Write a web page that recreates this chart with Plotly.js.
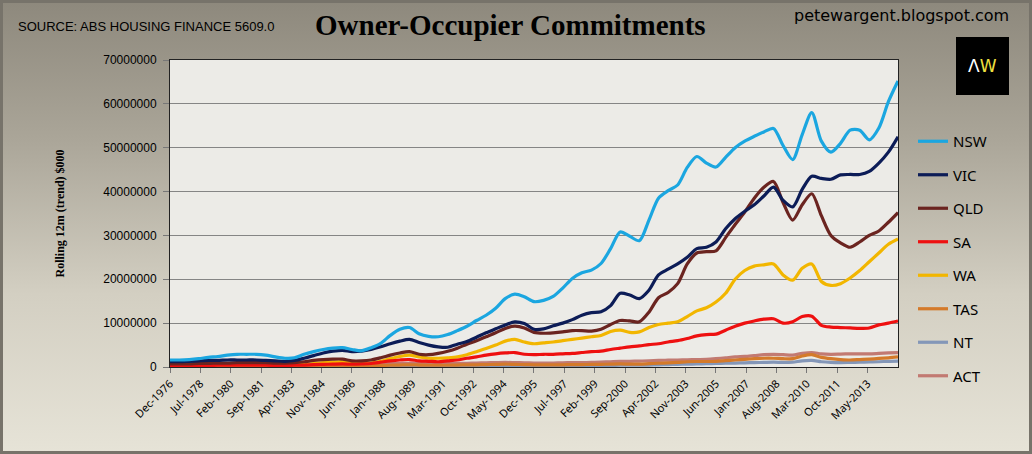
<!DOCTYPE html>
<html>
<head>
<meta charset="utf-8">
<script src="https://cdn.plot.ly/plotly-3.0.1.min.js"></script>
<style>
  body { margin: 0; padding: 0; }
  #chart {
    width: 1032px; height: 454px; box-sizing: border-box;
    border: 3px solid #77736a;
    background: linear-gradient(to bottom, #8e897d 0%, #aaa598 30%, #d3cfc2 65%, #e6e3d7 100%);
  }
</style>
</head>
<body>
<div id="chart"></div>
<script>
// rolling 12 month commitments, $000 (in millions of $000), read every six months Dec-1976 .. Dec-2014
var nsw = [1.6,1.6,1.7,1.9,2.2,2.4,2.7,2.9,2.9,2.9,
  2.7,2.3,2.0,2.1,2.9,3.5,4.0,4.3,4.4,4.0,
  3.7,4.4,5.4,7.2,8.6,9.0,7.6,7.0,6.9,7.4,
  8.3,9.3,10.6,11.8,13.4,15.6,16.6,16.0,14.9,15.2,
  16.1,18.0,20.2,21.5,22.1,23.6,27.0,30.8,29.8,28.8,
  33.5,38.5,40.2,41.5,45.5,48.0,46.5,45.6,47.8,50.0,
  51.5,52.6,53.6,54.4,50.5,47.3,53.0,58.0,51.5,49.0,
  51.0,54.0,54.0,51.8,54.5,60.5,65.2];
var vic = [1.2,1.2,1.3,1.4,1.5,1.5,1.6,1.6,1.6,1.6,
  1.5,1.4,1.3,1.5,2.0,2.6,3.2,3.6,3.8,3.5,
  3.6,4.0,4.6,5.3,5.9,6.3,5.6,5.0,4.6,4.5,
  5.2,5.8,6.8,7.8,8.7,9.6,10.3,9.9,8.6,8.7,
  9.4,10.0,10.8,11.8,12.4,12.6,14.0,16.8,16.4,15.6,
  17.5,21.0,22.3,23.5,25.0,27.0,27.3,28.5,31.5,33.8,
  35.5,37.0,39.0,41.0,38.0,36.5,40.5,43.5,43.0,42.8,
  43.8,43.9,43.9,44.6,46.5,49.0,52.5];
var qld = [0.7,0.7,0.7,0.8,0.8,0.9,0.9,1.0,1.0,1.0,
  1.0,0.9,0.9,1.0,1.2,1.5,1.7,1.8,1.8,1.4,
  1.4,1.6,2.1,2.7,3.2,3.5,2.9,2.8,3.1,3.6,
  4.3,5.2,6.0,6.9,7.8,8.8,9.3,8.9,7.9,7.7,
  7.8,8.0,8.3,8.3,8.2,8.6,9.7,10.6,10.5,10.3,
  12.5,15.8,17.0,19.0,23.5,26.0,26.3,26.5,29.5,32.5,
  35.3,38.5,41.0,42.3,37.5,33.5,37.0,39.5,34.5,30.0,
  28.3,27.3,28.5,30.0,31.0,33.0,35.2];
var sa = [0.35,0.35,0.35,0.35,0.35,0.4,0.4,0.4,0.4,0.4,
  0.4,0.35,0.35,0.4,0.45,0.55,0.6,0.65,0.7,0.65,
  0.7,0.8,1.1,1.4,1.6,1.7,1.4,1.3,1.2,1.4,
  1.6,2.0,2.3,2.7,3.0,3.2,3.3,2.9,2.8,2.9,
  2.9,3.0,3.1,3.3,3.5,3.6,4.0,4.3,4.6,4.8,
  5.1,5.3,5.7,6.0,6.5,7.1,7.4,7.5,8.4,9.3,
  10.0,10.5,10.9,11.0,10.0,10.3,11.5,11.6,9.5,9.1,
  9.0,8.9,8.8,8.9,9.6,10.0,10.5];
var wa = [0.6,0.6,0.6,0.6,0.65,0.7,0.7,0.75,0.8,0.8,
  0.75,0.7,0.6,0.6,0.65,0.8,1.0,1.1,1.2,0.9,
  0.8,0.9,1.3,1.9,2.4,2.7,2.3,2.0,2.0,2.1,
  2.3,2.8,3.5,4.2,5.0,5.9,6.3,5.7,5.3,5.5,
  5.7,6.0,6.3,6.6,6.9,7.2,8.1,8.4,7.9,8.0,
  9.0,9.7,10.0,10.3,11.5,12.8,13.5,14.8,16.8,20.0,
  22.0,23.0,23.3,23.5,21.0,19.8,22.5,23.5,19.5,18.6,
  19.0,20.3,22.0,24.0,26.0,28.0,29.2];
var tas = [0.25,0.25,0.25,0.25,0.25,0.25,0.25,0.3,0.3,0.3,
  0.3,0.3,0.25,0.25,0.3,0.3,0.35,0.35,0.35,0.3,
  0.3,0.3,0.35,0.4,0.45,0.5,0.45,0.4,0.4,0.4,
  0.45,0.5,0.5,0.55,0.6,0.65,0.6,0.55,0.5,0.5,
  0.5,0.5,0.55,0.55,0.6,0.6,0.65,0.7,0.65,0.65,
  0.75,0.85,0.95,1.05,1.2,1.25,1.25,1.3,1.45,1.6,
  1.75,1.9,2.0,2.0,1.9,1.9,2.5,2.8,2.2,1.9,
  1.7,1.6,1.7,1.8,1.95,2.1,2.3];
var nt = [0.1,0.1,0.1,0.1,0.1,0.1,0.1,0.1,0.1,0.1,
  0.1,0.1,0.1,0.1,0.12,0.12,0.15,0.15,0.15,0.15,
  0.15,0.15,0.18,0.2,0.22,0.22,0.2,0.2,0.2,0.2,
  0.22,0.25,0.28,0.3,0.32,0.35,0.33,0.3,0.3,0.3,
  0.3,0.3,0.32,0.33,0.35,0.35,0.38,0.4,0.4,0.42,
  0.45,0.5,0.55,0.6,0.65,0.7,0.75,0.8,0.85,0.9,
  0.95,1.0,1.05,1.1,1.05,1.1,1.4,1.5,1.2,1.05,
  1.0,1.05,1.1,1.15,1.2,1.3,1.35];
var act = [0.3,0.3,0.3,0.3,0.35,0.35,0.35,0.4,0.4,0.4,
  0.4,0.35,0.35,0.35,0.4,0.45,0.5,0.5,0.5,0.5,
  0.5,0.55,0.65,0.75,0.8,0.85,0.8,0.75,0.75,0.75,
  0.8,0.85,0.9,0.95,1.0,1.05,1.0,0.95,0.9,0.9,
  0.9,0.95,1.0,1.0,1.05,1.1,1.2,1.3,1.3,1.35,
  1.4,1.5,1.55,1.6,1.65,1.7,1.75,1.9,2.1,2.3,
  2.4,2.6,2.8,2.9,2.8,2.7,3.1,3.3,3.0,2.9,
  2.95,3.0,3.0,3.0,3.1,3.2,3.3];

var states = ["NSW", "VIC", "QLD", "SA", "WA", "TAS", "NT", "ACT"];
var colors = ["#1ba6e0", "#0c1c57", "#6b2420", "#ee1010", "#f2b600", "#d47a2a", "#8497b8", "#c27a72"];
var tickLabels = ["Dec-1976","Jul-1978","Feb-1980","Sep-1981","Apr-1983","Nov-1984","Jun-1986",
  "Jan-1988","Aug-1989","Mar-1991","Oct-1992","May-1994","Dec-1995","Jul-1997","Feb-1999",
  "Sep-2000","Apr-2002","Nov-2003","Jun-2005","Jan-2007","Aug-2008","Mar-2010","Oct-2011","May-2013"];

var monthNum = {Jan:"01",Feb:"02",Mar:"03",Apr:"04",May:"05",Jun:"06",Jul:"07",Aug:"08",Sep:"09",Oct:"10",Nov:"11",Dec:"12"};
var tickVals = tickLabels.map(function (t) {
  var p = t.split("-");
  return p[1] + "-" + monthNum[p[0]] + "-01";
});

// six-monthly dates
var dates = ["1976-12-01"];
for (var yr = 1977; yr <= 2014; yr++) {
  dates.push(yr + "-06-01");
  dates.push(yr + "-12-01");
}

var series = [nsw, vic, qld, sa, wa, tas, nt, act];
var data = [];
// draw small states first so the big lines sit on top
for (var i = series.length - 1; i >= 0; i--) {
  data.push({
    type: "scatter",
    mode: "lines",
    name: states[i],
    legendgroup: states[i],
    legendrank: i + 1,
    x: dates,
    y: series[i].map(function (v) { return v * 1e6; }),
    line: { color: colors[i], width: 3.2, shape: "spline", smoothing: 0.8 },
    hoverinfo: "x+y+name"
  });
}

// plot area in page pixels: left 170, right 898, top 60, bottom 367
function px(x) { return (x - 170) / 728; }
function py(y) { return (367 - y) / 307; }

var layout = {
  width: 1026,
  height: 448,
  margin: { l: 167, r: 131, t: 57, b: 84 },
  paper_bgcolor: "rgba(0,0,0,0)",
  plot_bgcolor: "#ecebe7",
  font: { family: "Liberation Sans, Arial, sans-serif", color: "#000" },
  showlegend: true,
  legend: {
    x: px(913), xanchor: "left",
    y: py(125), yanchor: "top",
    traceorder: "grouped",
    tracegroupgap: 11,
    itemwidth: 30,
    font: { family: "Noto Sans, sans-serif", size: 15, color: "#000" },
    bgcolor: "rgba(0,0,0,0)"
  },
  xaxis: {
    type: "date",
    range: ["1976-12-01", "2014-12-01"],
    tickmode: "array",
    tickvals: tickVals,
    ticktext: tickLabels,
    tickangle: -45,
    ticks: "outside",
    ticklen: 5,
    tickcolor: "#777",
    tickfont: { family: "Noto Sans, sans-serif", size: 11 },
    showgrid: false,
    showline: true,
    linecolor: "#222",
    linewidth: 1,
    mirror: true,
    zeroline: false,
    fixedrange: true
  },
  yaxis: {
    range: [0, 70000000],
    dtick: 10000000,
    tickformat: "d",
    ticks: "outside",
    ticklen: 6,
    tickcolor: "#777",
    tickfont: { size: 12 },
    ticklabelstandoff: 4,
    showgrid: true,
    gridcolor: "#858585",
    gridwidth: 1,
    showline: true,
    linecolor: "#222",
    linewidth: 1,
    mirror: true,
    zeroline: false,
    title: {
      text: "<b>Rolling 12m (trend) $000</b>",
      font: { family: "Liberation Serif, Times New Roman, serif", size: 12 },
      standoff: 36
    },
    fixedrange: true
  },
  annotations: [
    {
      xref: "paper", yref: "paper", x: px(16), y: py(27), xanchor: "left", yanchor: "middle",
      text: "SOURCE: ABS HOUSING FINANCE 5609.0", showarrow: false,
      font: { family: "Liberation Sans, Arial, sans-serif", size: 13, color: "#000" }
    },
    {
      xref: "paper", yref: "paper", x: px(510), y: py(25), xanchor: "center", yanchor: "middle",
      text: "<b>Owner-Occupier Commitments</b>", showarrow: false,
      font: { family: "Liberation Serif, Times New Roman, serif", size: 29, color: "#000" }
    },
    {
      xref: "paper", yref: "paper", x: px(1011), y: py(16), xanchor: "right", yanchor: "middle",
      text: "petewargent.blogspot.com", showarrow: false,
      font: { family: "DejaVu Sans, sans-serif", size: 16, color: "#000" }
    },
    {
      xref: "paper", yref: "paper", x: px(982), y: py(66), xanchor: "center", yanchor: "middle",
      text: "<span style='color:#ffffff'>Λ</span><span style='color:#f0e040'>W</span>", showarrow: false,
      font: { family: "DejaVu Sans, sans-serif", size: 17 }
    }
  ],
  shapes: [
    {
      type: "rect", xref: "paper", yref: "paper",
      x0: px(956), x1: px(1009), y0: py(95), y1: py(37),
      fillcolor: "#000", line: { width: 0 }
    }
  ]
};

Plotly.newPlot("chart", data, layout, { displayModeBar: false, staticPlot: true });
</script>
</body>
</html>
